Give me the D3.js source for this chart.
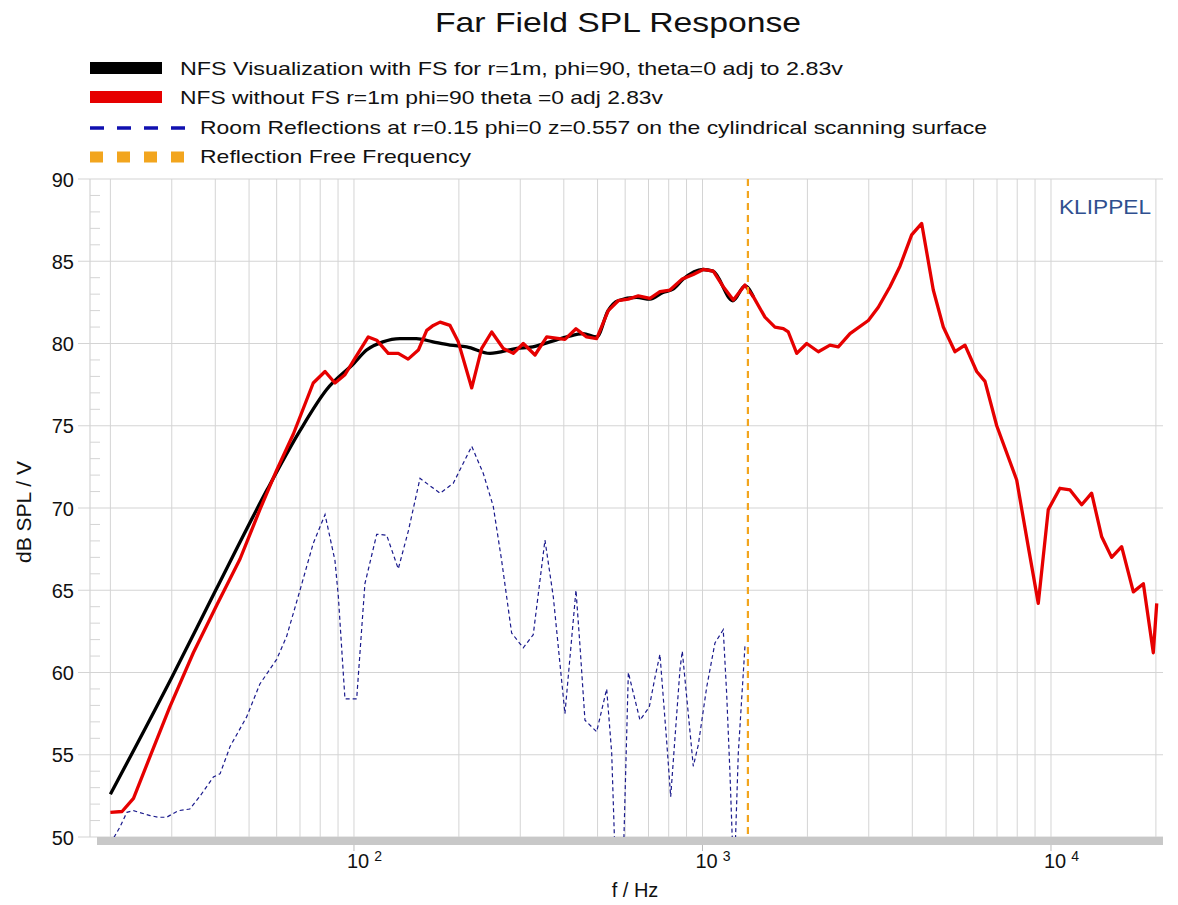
<!DOCTYPE html>
<html>
<head>
<meta charset="utf-8">
<script src="https://cdn.jsdelivr.net/npm/d3@7"></script>
<style>
  html, body { margin: 0; padding: 0; background: #ffffff; }
  svg { display: block; font-family: "Liberation Sans", Arial, sans-serif; }
</style>
</head>
<body>
<svg id="chart" width="1178" height="905"></svg>
<script>
// ---------------- data ----------------
const titleText = "Far Field SPL Response";
const legendLabels = [
  "NFS Visualization with FS for r=1m, phi=90, theta=0 adj to 2.83v",
  "NFS without FS r=1m phi=90 theta =0 adj 2.83v",
  "Room Reflections at r=0.15 phi=0 z=0.557 on the cylindrical scanning surface",
  "Reflection Free Frequency"
];
const yTicks = [50, 55, 60, 65, 70, 75, 80, 85, 90];
const xDecades = [100, 1000, 10000];
const xDecadeExp = ["2", "3", "4"];
const xMinor = [20, 30, 40, 50, 60, 70, 80, 90, 200, 300, 400, 500, 600, 700, 800, 900,
                2000, 3000, 4000, 5000, 6000, 7000, 8000, 9000, 20000];

// black: NFS with FS (smooth)
const blackF  = [20, 30, 40, 56.3, 70, 83.5, 100, 108.7, 121, 135.5, 151, 168.5, 188.6, 210.6, 245.6,
                 293, 326, 365, 408, 454, 497, 536, 572, 647, 707, 770, 823, 879, 1003, 1072, 1223, 1324, 1399];
const blackDb = [52.6, 59.7, 64.95, 71.1, 74.7, 77.2, 78.8, 79.6, 80.1, 80.3, 80.3, 80.1, 79.9, 79.8, 79.4,
                 79.7, 79.8, 80.1, 80.4, 80.6, 80.4, 82.0, 82.6, 82.8, 82.7, 83.1, 83.3, 83.9, 84.5, 84.4, 82.6, 83.5, 82.85];

// red: NFS without FS
const redF  = [20, 21.6, 23.3, 26.0, 29.6, 34.6, 40.4, 47.1, 53.7, 60.0, 67.0, 76.4, 82.6, 88.2, 94.2,
               100, 109.9, 116.2, 125.4, 134, 143, 153, 161.7, 168.9, 176.6, 188.6, 199.2, 217.7, 232.5, 248.4,
               268.2, 286.5, 306, 330.7, 357.3, 403, 433.5, 465, 497, 536.6, 573, 612.7, 654.5, 707, 755,
               806.6, 871.6, 941, 1005, 1074, 1147, 1226, 1324, 1399, 1511, 1614, 1706, 1763, 1864, 1991,
               2150, 2322, 2453, 2650, 2991, 3195, 3451, 3687, 3983, 4256, 4595, 4909, 5303, 5665, 6121,
               6466, 6987, 7972, 8605, 9194, 9822, 10610, 11340, 12250, 13080, 13980, 14930, 15950, 17230, 18410,
               19660, 20110];
const redDb = [51.5, 51.55, 52.35, 54.9, 57.9, 61.2, 64.1, 66.9, 69.9, 72.3, 74.5, 77.6, 78.3, 77.6, 78.1,
               79.0, 80.4, 80.2, 79.4, 79.4, 79.05, 79.6, 80.8, 81.1, 81.3, 81.1, 80.1, 77.3, 79.7, 80.7,
               79.7, 79.4, 80.0, 79.3, 80.4, 80.25, 80.9, 80.4, 80.3, 82.0, 82.6, 82.7, 82.9, 82.75, 83.15,
               83.25, 83.9, 84.2, 84.5, 84.4, 83.45, 82.65, 83.55, 82.85, 81.6, 81.0, 80.9, 80.7, 79.4, 80.0,
               79.5, 79.9, 79.8, 80.6, 81.4, 82.2, 83.45, 84.7, 86.6, 87.3, 83.25, 81.0, 79.5, 79.9, 78.3,
               77.7, 75.0, 71.7, 67.65, 64.2, 69.9, 71.2, 71.1, 70.2, 70.9, 68.25, 67.0, 67.65, 64.9, 65.4,
               61.2, 64.2];

// blue dashed: room reflections
const blueF  = [20, 21.3, 22.3, 23.3, 26.0, 27.5, 29.0, 31.3, 33.8, 36.2, 39.5, 41.3, 44.1, 49.2, 53.7,
                60.0, 64.1, 70.0, 76.4, 82.6, 88.2, 90.2, 94.2, 101.8, 107.5, 116.2, 124.1, 134, 143.2, 154.7,
                176.6, 192.7, 217.7, 235, 251, 265.3, 283.4, 306, 326.9, 353.2, 373.2, 403, 433.5, 445.2, 460,
                497, 531, 548.9, 564.7, 590, 612.7, 661.7, 703.6, 730.6, 755, 789.4, 810.5, 861.9, 875, 901,
                941, 972.7, 1028, 1086, 1147, 1173, 1199, 1231, 1267, 1324];
const blueDb = [49.6, 50.6, 51.5, 51.6, 51.3, 51.2, 51.2, 51.6, 51.7, 52.5, 53.65, 53.85, 55.5, 57.3, 59.3,
                60.8, 62.2, 65.0, 67.85, 69.6, 66.8, 64.6, 58.4, 58.4, 65.4, 68.4, 68.35, 66.3, 68.6, 71.8,
                70.9, 71.5, 73.75, 72.1, 70.1, 66.8, 62.4, 61.5, 62.3, 68.05, 64.6, 57.5, 65.0, 61.6, 57.1,
                56.4, 59.0, 55.1, 47.0, 47.0, 60.0, 57.1, 57.9, 59.7, 61.1, 55.8, 52.45, 60.2, 61.3, 58.5,
                54.3, 55.6, 59.1, 61.8, 62.6, 58.75, 53.9, 47.0, 55.1, 61.6];

const reflectionFreeF = 1350;

// ---------------- layout ----------------
const svg = d3.select("#chart");
const L = 90, R = 1163, T = 179, B = 837;
const x = d3.scaleLog().domain([17.48, 20960]).range([L, R]);
const y = d3.scaleLinear().domain([50, 90]).range([B, T]);
const gridColor = "#d4d4d4";

// title
svg.append("text").attr("x", 618).attr("y", 32).attr("text-anchor", "middle")
  .attr("font-size", 28).attr("textLength", 366).attr("lengthAdjust", "spacingAndGlyphs")
  .attr("fill", "#111").text(titleText);

// legend
const lg = svg.append("g");
lg.append("rect").attr("x", 90).attr("y", 62).attr("width", 72).attr("height", 12).attr("fill", "#000");
lg.append("rect").attr("x", 90).attr("y", 91).attr("width", 72).attr("height", 12).attr("fill", "#e60000");
lg.append("line").attr("x1", 90).attr("x2", 186).attr("y1", 128).attr("y2", 128)
  .attr("stroke", "#1010b0").attr("stroke-width", 3.5).attr("stroke-dasharray", "14,13");
lg.append("line").attr("x1", 90).attr("x2", 186).attr("y1", 157).attr("y2", 157)
  .attr("stroke", "#f2a51e").attr("stroke-width", 11).attr("stroke-dasharray", "13,14");
const legX = [180, 180, 200, 200], legY = [75, 104, 134, 163], legW = [663, 483, 787, 271];
legendLabels.forEach((t, i) => {
  lg.append("text").attr("x", legX[i]).attr("y", legY[i]).attr("font-size", 19)
    .attr("textLength", legW[i]).attr("lengthAdjust", "spacingAndGlyphs")
    .attr("fill", "#111").text(t);
});

// grid
const grid = svg.append("g");
xMinor.concat(xDecades).forEach(f => {
  grid.append("line").attr("x1", x(f)).attr("x2", x(f)).attr("y1", T).attr("y2", B)
    .attr("stroke", gridColor).attr("stroke-width", 1);
});
yTicks.forEach(v => {
  grid.append("line").attr("x1", 78).attr("x2", R).attr("y1", y(v)).attr("y2", y(v))
    .attr("stroke", gridColor).attr("stroke-width", 1.2);
});
// minor y ticks
d3.range(51, 90).filter(v => v % 5 !== 0).forEach(v => {
  grid.append("line").attr("x1", L).attr("x2", L + 10).attr("y1", y(v)).attr("y2", y(v))
    .attr("stroke", gridColor).attr("stroke-width", 1);
});
// left axis line
grid.append("line").attr("x1", L).attr("x2", L).attr("y1", T).attr("y2", B)
  .attr("stroke", gridColor).attr("stroke-width", 1.2);

// y tick labels via d3 axis
const yAxis = svg.append("g").attr("transform", `translate(${74},0)`)
  .call(d3.axisLeft(y).tickValues(yTicks).tickSize(0).tickPadding(0).tickFormat(d3.format("d")));
yAxis.select(".domain").remove();
yAxis.selectAll("text").attr("font-size", 20).attr("font-family", "Liberation Sans, Arial, sans-serif")
  .attr("fill", "#111").attr("dy", "0.36em");

// bottom gray bar
svg.append("rect").attr("x", 97).attr("y", B).attr("width", R - 97).attr("height", 8).attr("fill", "#c8c8c8");
// decade ticks & labels
xDecades.forEach((f, i) => {
  svg.append("line").attr("x1", x(f)).attr("x2", x(f)).attr("y1", B + 8).attr("y2", B + 14)
    .attr("stroke", "#bbb").attr("stroke-width", 1);
  const t = svg.append("text").attr("x", x(f) - 7).attr("y", 868).attr("font-size", 20).attr("fill", "#111");
  t.append("tspan").text("10");
  t.append("tspan").attr("dx", 5).attr("dy", -7).attr("font-size", 14).text(xDecadeExp[i]);
});

// axis titles
svg.append("text").attr("x", 635).attr("y", 897).attr("text-anchor", "middle")
  .attr("font-size", 20).attr("fill", "#111").text("f / Hz");
svg.append("text").attr("transform", "translate(31,512) rotate(-90)").attr("text-anchor", "middle")
  .attr("font-size", 21).attr("fill", "#111").text("dB SPL / V");

// KLIPPEL
svg.append("text").attr("x", 1059).attr("y", 214).attr("font-size", 21)
  .attr("textLength", 92).attr("lengthAdjust", "spacingAndGlyphs")
  .attr("fill", "#2f4f8f").text("KLIPPEL");

// clip
svg.append("clipPath").attr("id", "plotClip").append("rect")
  .attr("x", L).attr("y", T).attr("width", R - L).attr("height", B - T);
const plot = svg.append("g").attr("clip-path", "url(#plotClip)");

// blue dashed
const lineLin = d3.line().x(d => x(d[0])).y(d => y(d[1]));
plot.append("path").datum(d3.zip(blueF, blueDb)).attr("d", lineLin)
  .attr("fill", "none").attr("stroke", "#1a1a8c").attr("stroke-width", 1.2)
  .attr("stroke-dasharray", "4,3");

// black
const lineSmooth = d3.line().x(d => x(d[0])).y(d => y(d[1])).curve(d3.curveMonotoneX);
plot.append("path").datum(d3.zip(blackF, blackDb)).attr("d", lineSmooth)
  .attr("fill", "none").attr("stroke", "#000").attr("stroke-width", 3.3).attr("stroke-linejoin", "round");

// red
plot.append("path").datum(d3.zip(redF, redDb)).attr("d", lineLin)
  .attr("fill", "none").attr("stroke", "#e60000").attr("stroke-width", 3.3).attr("stroke-linejoin", "round");

// orange reflection-free frequency line
svg.append("line").attr("x1", x(reflectionFreeF)).attr("x2", x(reflectionFreeF))
  .attr("y1", T).attr("y2", B)
  .attr("stroke", "#f2a51e").attr("stroke-width", 2.2).attr("stroke-dasharray", "7,5");
</script>
</body>
</html>
